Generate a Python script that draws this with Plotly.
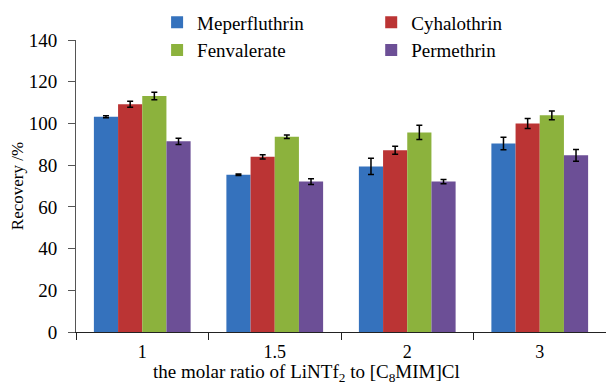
import plotly.graph_objects as go

# Molar ratio categories
ratios = ["1", "1.5", "2", "3"]

# Mean recoveries (%) per pyrethroid
meperfluthrin = [103.2, 75.4, 79.4, 90.4]
cyhalothrin = [109.2, 84.0, 87.1, 100.0]
fenvalerate = [113.1, 93.6, 95.7, 103.9]
permethrin = [91.4, 72.1, 72.1, 84.7]

# Standard deviations (%)
meperfluthrin_sd = [0.5, 0.4, 3.9, 3.0]
cyhalothrin_sd = [1.4, 1.0, 1.9, 2.4]
fenvalerate_sd = [1.8, 0.8, 3.4, 2.1]
permethrin_sd = [1.5, 1.4, 1.0, 2.8]

series = [
    ("Meperfluthrin", meperfluthrin, meperfluthrin_sd, "#3572BD", "legend"),
    ("Cyhalothrin", cyhalothrin, cyhalothrin_sd, "#BB3434", "legend2"),
    ("Fenvalerate", fenvalerate, fenvalerate_sd, "#8CB23D", "legend"),
    ("Permethrin", permethrin, permethrin_sd, "#6C4F96", "legend2"),
]

FONT = "Liberation Serif"

fig = go.Figure()
for name, vals, sd, color, leg in series:
    fig.add_trace(go.Bar(
        name=name, x=ratios, y=vals,
        marker=dict(color=color, line=dict(width=0)),
        error_y=dict(type="data", array=sd, color="black", thickness=1.5, width=3),
        legend=leg,
    ))

legend_style = dict(
    orientation="v", xanchor="left", yanchor="top", y=1.125, yref="paper",
    font=dict(family=FONT, size=19, color="black"),
    bgcolor="rgba(0,0,0,0)", itemwidth=30, tracegroupgap=0,
)

fig.update_layout(
    template="none",
    width=606, height=388,
    margin=dict(l=76, r=0, t=40, b=56),
    paper_bgcolor="white", plot_bgcolor="white",
    barmode="group", bargap=0.27, bargroupgap=0,
    font=dict(family=FONT, size=18, color="black"),
    legend=dict(x=0.153, **legend_style),
    legend2=dict(x=0.557, **legend_style),
    xaxis=dict(
        type="category", showline=True, linecolor="#222", linewidth=1,
        ticks="outside", tickson="boundaries", ticklen=7, tickcolor="#222",
        showgrid=False, tickfont=dict(family=FONT, size=18, color="black"),
        ticklabelstandoff=3,
    ),
    yaxis=dict(
        range=[0, 140], dtick=20, showline=True, linecolor="#555", linewidth=1,
        ticks="outside", ticklen=7, tickcolor="#555", showgrid=False,
        zeroline=False, tickfont=dict(family=FONT, size=19, color="black"),
        ticklabelstandoff=7,
        title=dict(text="Recovery /%", font=dict(family=FONT, size=17, color="black"),
                   standoff=0),
    ),
)

# x-axis title centred under the whole figure
fig.add_annotation(
    text="the molar ratio of LiNTf<sub>2</sub> to [C<sub>8</sub>MIM]Cl",
    xref="paper", yref="paper", x=0.434, y=0, xanchor="center", yanchor="top",
    yshift=-27, showarrow=False, font=dict(family=FONT, size=19, color="black"),
)

fig.write_html("out.html")
